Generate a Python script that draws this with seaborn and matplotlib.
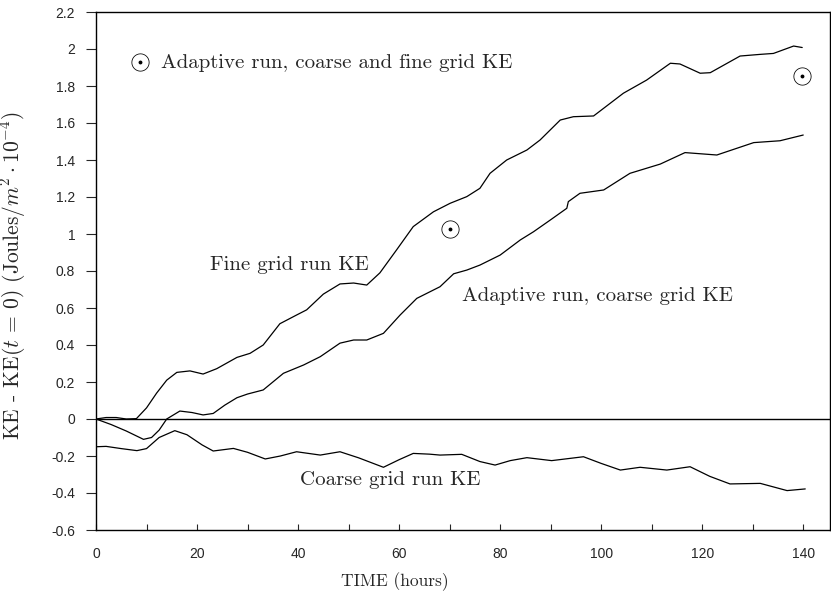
import matplotlib
matplotlib.use("Agg")
import matplotlib.pyplot as plt
import numpy as np
import pandas as pd
import seaborn as sns
from matplotlib.ticker import MultipleLocator, FuncFormatter

fine_t = [0, 2, 4, 6, 8, 10, 12, 14, 16, 18.6, 21.2, 23.9, 27.9, 30.5, 33.1, 36.4, 39.7,
          41.7, 45, 48.3, 51, 53.6, 56.2, 59.5, 62.8, 66.8, 70.1, 73.4, 76, 78, 81.3,
          85.3, 87.9, 91.9, 94.5, 98.5, 104.4, 109, 113.7, 115.6, 119.6, 121.6, 127.5,
          131.5, 134.1, 138.1, 139.8]
fine_ke = [0.0, 0.008, 0.008, 0.0, 0.002, 0.06, 0.14, 0.21, 0.252, 0.26, 0.243, 0.272,
           0.333, 0.355, 0.40, 0.515, 0.562, 0.59, 0.675, 0.73, 0.735, 0.724, 0.79, 0.914,
           1.04, 1.12, 1.166, 1.202, 1.247, 1.328, 1.40, 1.454, 1.508, 1.616, 1.634, 1.638,
           1.761, 1.832, 1.923, 1.919, 1.869, 1.872, 1.962, 1.971, 1.976, 2.016, 2.008]

adapt_t = [0, 3, 6, 9.4, 11, 12.5, 14, 16.6, 19, 21.2, 23.2, 25.5, 27.9, 30, 33.1, 37.1,
           41.1, 44.4, 48.3, 51, 53.6, 56.9, 60.2, 63.5, 68.1, 70.8, 73.4, 76, 80, 84,
           86.6, 89.9, 93.2, 93.5, 95.8, 100.5, 105.7, 111.7, 116.6, 122.9, 130.2, 135.4, 140]
adapt_ke = [0.0, -0.03, -0.065, -0.11, -0.10, -0.06, 0.0, 0.043, 0.035, 0.022, 0.03, 0.075,
            0.115, 0.135, 0.157, 0.247, 0.292, 0.337, 0.41, 0.427, 0.427, 0.463, 0.562,
            0.652, 0.715, 0.785, 0.805, 0.832, 0.886, 0.968, 1.012, 1.075, 1.139, 1.175,
            1.22, 1.238, 1.328, 1.378, 1.44, 1.427, 1.494, 1.504, 1.535]

coarse_t = [0, 2, 5, 8.1, 10, 12.5, 15.6, 18, 21, 23.2, 27.2, 30, 33.5, 36.5, 39.7, 44.4,
            48.3, 52, 56.9, 60, 62.8, 66, 68.1, 72.4, 76, 79, 82, 85.3, 90.2, 96.5, 100,
            103.8, 107.7, 113, 117.6, 121.5, 125.5, 131.5, 136.8, 140.4]
coarse_ke = [-0.15, -0.148, -0.16, -0.171, -0.16, -0.1, -0.063, -0.085, -0.14, -0.173,
             -0.159, -0.18, -0.216, -0.2, -0.177, -0.195, -0.177, -0.21, -0.261, -0.22,
             -0.186, -0.19, -0.195, -0.191, -0.23, -0.249, -0.225, -0.209, -0.225, -0.204,
             -0.24, -0.276, -0.261, -0.276, -0.258, -0.31, -0.351, -0.348, -0.387, -0.378]

# adaptive run, coarse and fine grid KE (single samples)
pts_t = [70.1, 139.7]
pts_ke = [1.027, 1.854]

sns.set_style("ticks")
plt.rcParams['font.family'] = ['Liberation Sans', 'DejaVu Sans']
plt.rcParams['mathtext.fontset'] = 'cm'
serif = 'cmr10'

fig = plt.figure(figsize=(8.31, 5.92), dpi=100)
ax = fig.add_axes([96 / 831, 62 / 592, 734 / 831, 518 / 592])

for t, ke in [(fine_t, fine_ke), (adapt_t, adapt_ke), (coarse_t, coarse_ke)]:
    sns.lineplot(x=t, y=ke, ax=ax, color='black', lw=0.9, sort=False)
ax.axhline(0, color='black', lw=1.0)

sns.scatterplot(x=pts_t, y=pts_ke, ax=ax, marker=r'$\odot$', s=170, color='black',
                linewidth=0, label='Adaptive run, coarse and fine grid KE')

leg = ax.legend(loc='upper left', bbox_to_anchor=(0.035, 0.937), frameon=False,
                handlelength=1.0, handletextpad=0.5, borderaxespad=0,
                prop={'family': serif, 'size': 15})

ax.text(22.6, 0.832, 'Fine grid run KE', family=serif, fontsize=15, va='center')
ax.text(72.5, 0.665, 'Adaptive run, coarse grid KE', family=serif, fontsize=15, va='center')
ax.text(40.4, -0.33, 'Coarse grid run KE', family=serif, fontsize=15, va='center')

ax.set_xlim(0, 145.3)
ax.set_ylim(-0.6, 2.2)
ax.xaxis.set_major_locator(MultipleLocator(20))
ax.xaxis.set_minor_locator(MultipleLocator(10))
ax.yaxis.set_major_locator(MultipleLocator(0.2))
ax.yaxis.set_major_formatter(FuncFormatter(lambda v, p: '%g' % round(v, 1)))
ax.tick_params(axis='x', which='both', direction='in', length=4, width=0.8, labelsize=10, pad=12)
ax.tick_params(axis='y', which='major', direction='out', length=7, width=0.8, labelsize=10, pad=8)

for s in ax.spines.values():
    s.set_linewidth(1.0)
    s.set_color('black')

ax.set_xlabel('TIME (hours)', family=serif, fontsize=12.5)
ax.xaxis.set_label_coords(0.407, -0.081)
ax.set_ylabel(r'KE - KE($t$ = 0) (Joules/$m^2\cdot10^{-4}$)', family=serif, fontsize=15.5)
ax.yaxis.set_label_coords(-0.092, 0.492)

fig.savefig('out.png', dpi=100)
